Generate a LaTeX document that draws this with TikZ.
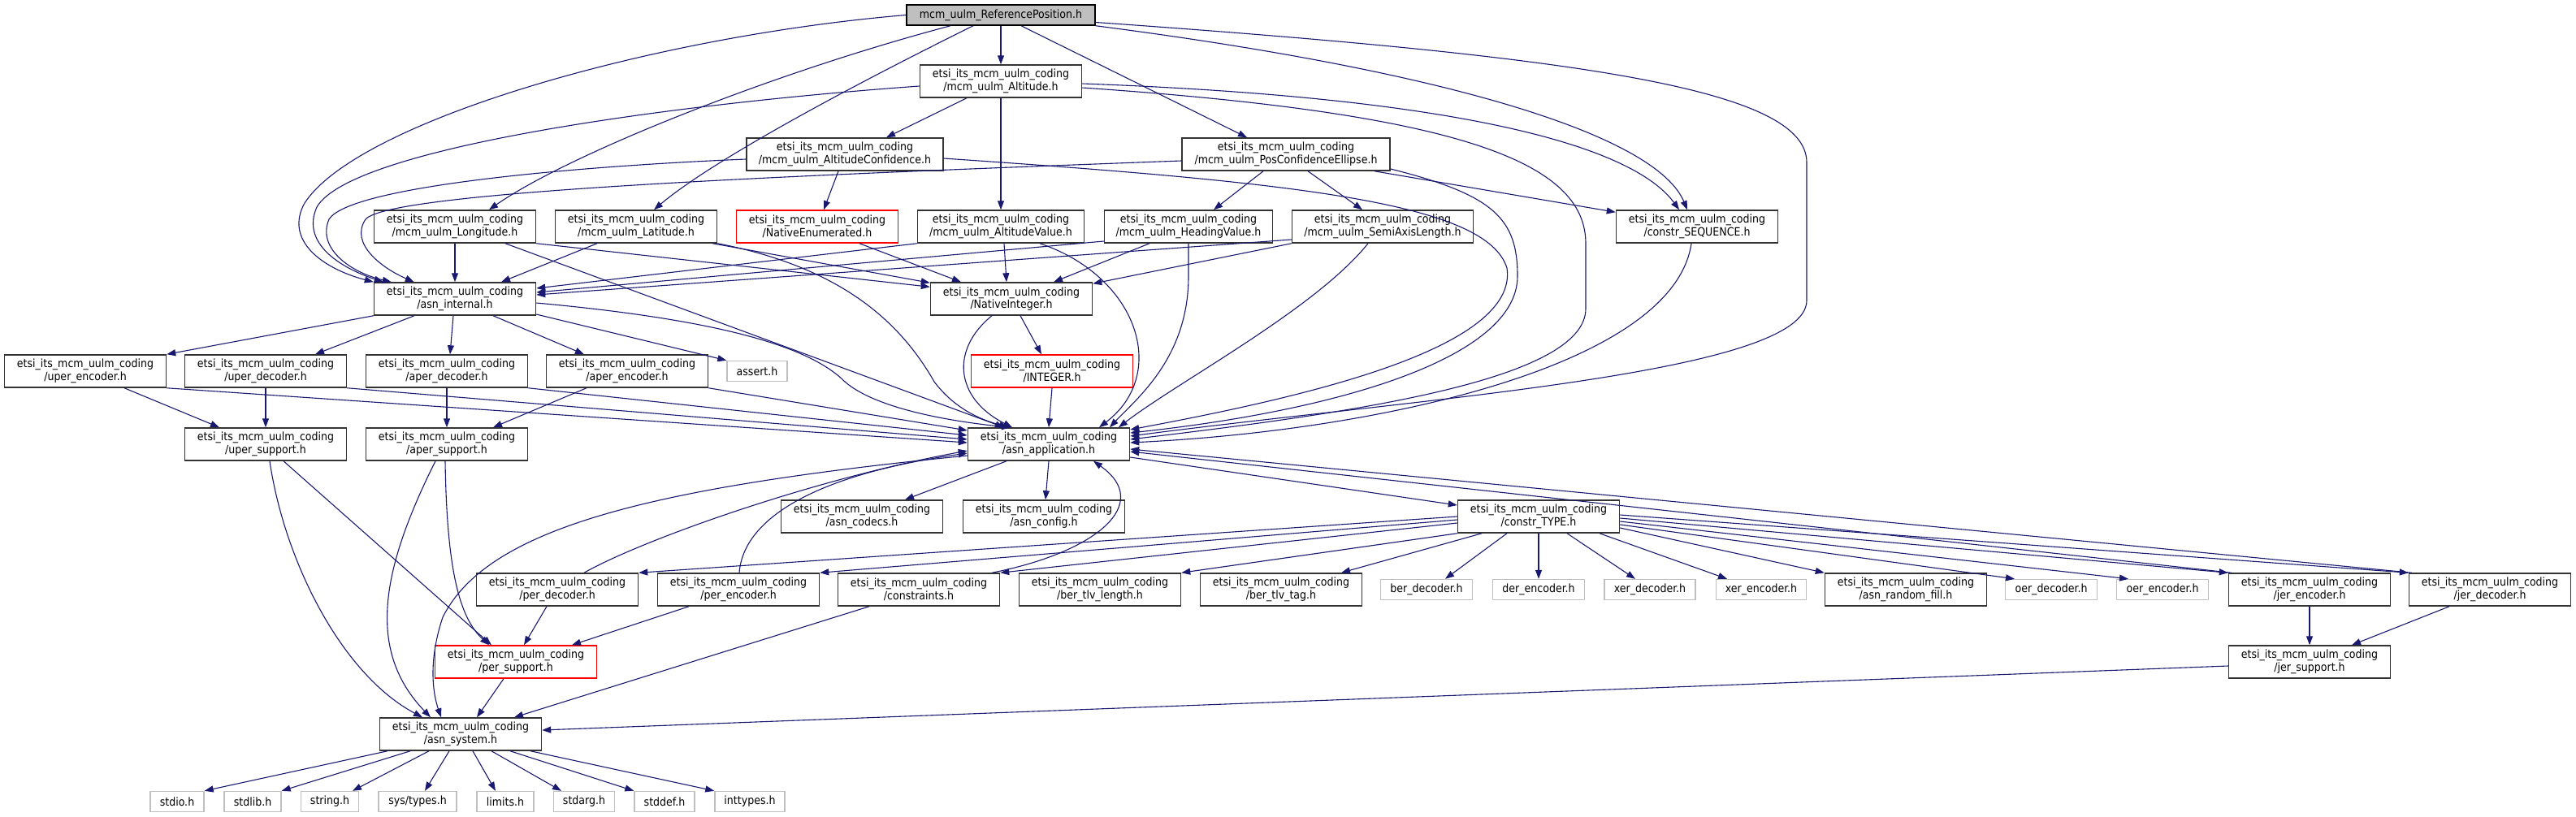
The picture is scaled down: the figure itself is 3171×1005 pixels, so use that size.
\documentclass[tikz,border=0pt]{standalone}
\usepackage{fontspec}
\setmainfont{DejaVu Sans Condensed}
\usetikzlibrary{arrows.meta}
\definecolor{edgecol}{HTML}{191970}
\definecolor{nodeborder}{HTML}{333333}
\definecolor{sysborder}{HTML}{BFBFBF}
\definecolor{rootfill}{HTML}{BFBFBF}
\newcommand\nfont{\fontsize{14}{15.5}\selectfont}
\tikzset{
  nb/.style={draw=nodeborder, line width=1.5pt, fill=white, minimum height=40pt, minimum width=199pt, inner sep=0pt, align=center, font=\nfont},
  sb/.style={draw=sysborder, line width=1.4pt, fill=white, minimum height=25pt, inner sep=0pt, align=center, font=\nfont},
  rb/.style={nb, draw=red},
  dep/.style={draw=edgecol, line width=1.1pt, -{Triangle[length=11pt,width=8pt]}},
}
\begin{document}
\begin{tikzpicture}[x=1pt,y=-1pt]
\useasboundingbox (0,0) rectangle (3171,1005);
% nodes
\node[nb, fill=rootfill, draw=black, minimum height=25pt, minimum width=232pt] (ref) at (1232,18.5) {mcm\_uulm\_ReferencePosition.h};
\node[nb] (alt) at (1232,100) {etsi\_its\_mcm\_uulm\_coding\\/mcm\_uulm\_Altitude.h};
\node[nb, minimum width=242pt] (altc) at (1040,190) {etsi\_its\_mcm\_uulm\_coding\\/mcm\_uulm\_AltitudeConfidence.h};
\node[nb, minimum width=256pt] (pce) at (1583,190) {etsi\_its\_mcm\_uulm\_coding\\/mcm\_uulm\_PosConfidenceEllipse.h};
\node[nb] (lon) at (560,279) {etsi\_its\_mcm\_uulm\_coding\\/mcm\_uulm\_Longitude.h};
\node[nb] (lat) at (783,279) {etsi\_its\_mcm\_uulm\_coding\\/mcm\_uulm\_Latitude.h};
\node[rb] (nenum) at (1006,279) {etsi\_its\_mcm\_uulm\_coding\\/NativeEnumerated.h};
\node[nb, minimum width=205pt] (altv) at (1232,279) {etsi\_its\_mcm\_uulm\_coding\\/mcm\_uulm\_AltitudeValue.h};
\node[nb, minimum width=207pt] (head) at (1463,279) {etsi\_its\_mcm\_uulm\_coding\\/mcm\_uulm\_HeadingValue.h};
\node[nb, minimum width=223pt] (semi) at (1702,279) {etsi\_its\_mcm\_uulm\_coding\\/mcm\_uulm\_SemiAxisLength.h};
\node[nb] (cseq) at (2089,279) {etsi\_its\_mcm\_uulm\_coding\\/constr\_SEQUENCE.h};
\node[nb] (asnint) at (560,368) {etsi\_its\_mcm\_uulm\_coding\\/asn\_internal.h};
\node[nb] (nint) at (1245,368) {etsi\_its\_mcm\_uulm\_coding\\/NativeInteger.h};
\node[nb] (uenc) at (105,457) {etsi\_its\_mcm\_uulm\_coding\\/uper\_encoder.h};
\node[nb] (udec) at (327,457) {etsi\_its\_mcm\_uulm\_coding\\/uper\_decoder.h};
\node[nb] (adec) at (550,457) {etsi\_its\_mcm\_uulm\_coding\\/aper\_decoder.h};
\node[nb] (aenc) at (772,457) {etsi\_its\_mcm\_uulm\_coding\\/aper\_encoder.h};
\node[sb, minimum width=74pt] (assert) at (932,457) {assert.h};
\node[rb] (integer) at (1295,457) {etsi\_its\_mcm\_uulm\_coding\\/INTEGER.h};
\node[nb] (usup) at (327,547) {etsi\_its\_mcm\_uulm\_coding\\/uper\_support.h};
\node[nb] (asup) at (550,547) {etsi\_its\_mcm\_uulm\_coding\\/aper\_support.h};
\node[nb] (asnapp) at (1291,547) {etsi\_its\_mcm\_uulm\_coding\\/asn\_application.h};
\node[nb] (codecs) at (1061,636) {etsi\_its\_mcm\_uulm\_coding\\/asn\_codecs.h};
\node[nb] (config) at (1285,636) {etsi\_its\_mcm\_uulm\_coding\\/asn\_config.h};
\node[nb] (ctype) at (1894,636) {etsi\_its\_mcm\_uulm\_coding\\/constr\_TYPE.h};
\node[nb] (perdec) at (686,726) {etsi\_its\_mcm\_uulm\_coding\\/per\_decoder.h};
\node[nb] (perenc) at (909,726) {etsi\_its\_mcm\_uulm\_coding\\/per\_encoder.h};
\node[nb] (constr) at (1131,726) {etsi\_its\_mcm\_uulm\_coding\\/constraints.h};
\node[nb] (btlvl) at (1354,726) {etsi\_its\_mcm\_uulm\_coding\\/ber\_tlv\_length.h};
\node[nb] (btlvt) at (1577,726) {etsi\_its\_mcm\_uulm\_coding\\/ber\_tlv\_tag.h};
\node[sb, minimum width=113pt] (berdec) at (1756,726) {ber\_decoder.h};
\node[sb, minimum width=113pt] (derenc) at (1894,726) {der\_encoder.h};
\node[sb, minimum width=112pt] (xerdec) at (2031,726) {xer\_decoder.h};
\node[sb, minimum width=111pt] (xerenc) at (2168,726) {xer\_encoder.h};
\node[nb] (rfill) at (2346,726) {etsi\_its\_mcm\_uulm\_coding\\/asn\_random\_fill.h};
\node[sb, minimum width=113pt] (oerdec) at (2525,726) {oer\_decoder.h};
\node[sb, minimum width=113pt] (oerenc) at (2662,726) {oer\_encoder.h};
\node[nb] (jenc) at (2843,726) {etsi\_its\_mcm\_uulm\_coding\\/jer\_encoder.h};
\node[nb] (jdec) at (3065,726) {etsi\_its\_mcm\_uulm\_coding\\/jer\_decoder.h};
\node[rb] (persup) at (635,815) {etsi\_its\_mcm\_uulm\_coding\\/per\_support.h};
\node[nb] (jsup) at (2843,815) {etsi\_its\_mcm\_uulm\_coding\\/jer\_support.h};
\node[nb] (asnsys) at (567,904) {etsi\_its\_mcm\_uulm\_coding\\/asn\_system.h};
\node[sb, minimum width=66pt] (stdio) at (218,987) {stdio.h};
\node[sb, minimum width=70pt] (stdlib) at (311,987) {stdlib.h};
\node[sb, minimum width=71pt] (string) at (406,987) {string.h};
\node[sb, minimum width=96pt] (systypes) at (514,987) {sys/types.h};
\node[sb, minimum width=70pt] (limits) at (622,987) {limits.h};
\node[sb, minimum width=75pt] (stdarg) at (719,987) {stdarg.h};
\node[sb, minimum width=74pt] (stddef) at (818,987) {stddef.h};
\node[sb, minimum width=86pt] (inttypes) at (923,987) {inttypes.h};
% edges from ReferencePosition
\draw[dep] (ref.west) .. controls (800,45) and (440,150) .. (375,250) .. controls (350,295) and (395,330) .. (asnint.north west);
\draw[dep] ([xshift=-62pt]ref.south) .. controls (950,90) and (700,190) .. ([xshift=42pt]lon.north);
\draw[dep] ([xshift=-34pt]ref.south) .. controls (1060,100) and (880,195) .. ([xshift=22pt]lat.north);
\draw[dep] (ref.south) -- (alt.north);
\draw[dep] ([xshift=25pt]ref.south) -- ([xshift=-48pt]pce.north);
\draw[dep] (ref.south east) .. controls (1800,90) and (2040,170) .. ([xshift=-12pt]cseq.north);
\draw[dep] ([yshift=-9pt]ref.east) .. controls (1950,70) and (2224,110) .. (2224,200) -- (2224,370) .. controls (2224,460) and (1750,490) .. ([yshift=10pt]asnapp.east);
% Altitude
\draw[dep] ([xshift=-42pt]alt.south) -- ([xshift=51pt]altc.north);
\draw[dep] (alt.south) -- (altv.north);
\draw[dep] ([yshift=-6pt]alt.west) .. controls (800,130) and (430,185) .. (390,255) .. controls (370,300) and (420,330) .. ([xshift=12pt]asnint.north west);
\draw[dep] ([yshift=-3pt]alt.east) .. controls (1800,120) and (2010,180) .. ([xshift=-22pt]cseq.north);
\draw[dep] ([yshift=-8pt]alt.east) .. controls (1800,140) and (1952,200) .. (1952,300) -- (1952,380) .. controls (1952,470) and (1650,510) .. ([yshift=6pt]asnapp.east);
% AltitudeConfidence
\draw[dep] ([xshift=-8pt]altc.south) -- ([xshift=8pt]nenum.north);
\draw[dep] ([yshift=-6pt]altc.west) .. controls (700,205) and (430,230) .. (405,270) .. controls (390,305) and (430,335) .. ([xshift=22pt]asnint.north west);
\draw[dep] ([yshift=-5pt]altc.east) .. controls (1600,225) and (1830,250) .. (1855,330) .. controls (1870,430) and (1600,490) .. ([yshift=18pt]asnapp.east);
% PosConfidenceEllipse
\draw[dep] ([xshift=-28pt]pce.south) -- ([xshift=31pt]head.north);
\draw[dep] ([xshift=27pt]pce.south) -- ([xshift=-25pt]semi.north);
\draw[dep] ([xshift=109pt]pce.south) -- ([yshift=-3pt]cseq.north west);
\draw[dep] ([yshift=-8pt]pce.west) .. controls (1000,215) and (480,235) .. (450,270) .. controls (430,300) and (470,330) .. ([xshift=50pt]asnint.north west);
\draw[dep] ([yshift=-18pt]pce.east) .. controls (1840,240) and (1868,270) .. (1868,340) .. controls (1868,440) and (1650,505) .. ([yshift=14pt]asnapp.east);
% Longitude
\draw[dep] (lon.south) -- (asnint.north);
\draw[dep] (lon.south east) -- ([yshift=-6pt]nint.north west);
\draw[dep] ([xshift=62pt]lon.south) -- ([xshift=-55pt]asnapp.north);
% Latitude
\draw[dep] ([xshift=-48pt]lat.south) -- ([xshift=57pt]asnint.north);
\draw[dep] ([xshift=-6pt]lat.south east) -- ([yshift=-1pt]nint.north west);
\draw[dep] (lat.south east) .. controls (1040,330) and (1110,400) .. (1150,470) .. controls (1180,510) and (1220,520) .. ([xshift=-50pt]asnapp.north);
% NativeEnumerated
\draw[dep] ([xshift=52pt]nenum.south) -- ([xshift=-62pt]nint.north);
% AltitudeValue
\draw[dep] (altv.south west) -- ([yshift=13pt]asnint.east);
\draw[dep] ([xshift=4pt]altv.south) -- ([xshift=-6pt]nint.north);
\draw[dep] ([xshift=48pt]altv.south) .. controls (1400,340) and (1440,460) .. ([xshift=62pt]asnapp.north);
% HeadingValue
\draw[dep] ([yshift=-18pt]head.west) -- ([yshift=8pt]asnint.east);
\draw[dep] ([xshift=-48pt]head.south) -- ([xshift=52pt]nint.north);
\draw[dep] (head.south) -- (1463,340) .. controls (1463,440) and (1400,490) .. ([xshift=75pt]asnapp.north);
% SemiAxisLength
\draw[dep] ([yshift=-16pt]semi.west) -- ([yshift=5pt]asnint.east);
\draw[dep] (semi.south west) -- ([yshift=-2pt]nint.north east);
\draw[dep] ([xshift=-18pt]semi.south) .. controls (1620,380) and (1450,470) .. ([xshift=86pt]asnapp.north);
% constr_SEQUENCE
\draw[dep] ([xshift=-7pt]cseq.south) .. controls (2060,450) and (1700,530) .. ([yshift=2pt]asnapp.east);
% asn_internal
\draw[dep] (asnint.south west) -- (uenc.north east);
\draw[dep] ([xshift=-50pt]asnint.south) -- ([xshift=61pt]udec.north);
\draw[dep] ([xshift=-2pt]asnint.south) -- ([xshift=4pt]adec.north);
\draw[dep] ([xshift=47pt]asnint.south) -- ([xshift=-53pt]aenc.north);
\draw[dep] ([yshift=-19pt]asnint.east) -- (assert.north west);
\draw[dep] ([yshift=-5pt]asnint.east) .. controls (900,395) and (1000,430) .. (1040,470) .. controls (1080,505) and (1180,520) .. ([xshift=-47pt]asnapp.north);
% uper / aper
\draw[dep] ([xshift=48pt]uenc.south) -- ([xshift=-57pt]usup.north);
\draw[dep] (uenc.south east) -- ([yshift=2pt]asnapp.west);
\draw[dep] (udec.south) -- (usup.north);
\draw[dep] (udec.south east) -- ([yshift=6pt]asnapp.west);
\draw[dep] (adec.south) -- (asup.north);
\draw[dep] (adec.south east) -- ([yshift=11pt]asnapp.west);
\draw[dep] ([xshift=-50pt]aenc.south) -- ([xshift=57pt]asup.north);
\draw[dep] (aenc.south east) -- ([yshift=17pt]asnapp.west);
\draw[dep] ([xshift=5pt]usup.south) .. controls (350,690) and (420,830) .. ([xshift=-47pt]asnsys.north);
\draw[dep] ([xshift=22pt]usup.south) -- ([xshift=-30pt]persup.north);
\draw[dep] ([xshift=-14pt]asup.south) .. controls (470,700) and (450,800) .. ([xshift=-37pt]asnsys.north);
\draw[dep] ([xshift=-2pt]asup.south) .. controls (550,700) and (565,760) .. ([xshift=-33pt]persup.north);
% NativeInteger / INTEGER
\draw[dep] ([xshift=11pt]nint.south) -- ([xshift=-13pt]integer.north);
\draw[dep] ([xshift=-24pt]nint.south) .. controls (1170,430) and (1175,490) .. ([xshift=-45pt]asnapp.north);
\draw[dep] (integer.south) -- (asnapp.north);
% asn_application
\draw[dep] ([xshift=-52pt]asnapp.south) -- ([xshift=53pt]codecs.north);
\draw[dep] (asnapp.south) -- ([xshift=2pt]config.north);
\draw[dep] ([yshift=-16pt]asnapp.east) -- ([yshift=14pt]ctype.west);
\draw[dep] ([yshift=-14pt]asnapp.west) .. controls (800,600) and (600,650) .. (545,760) .. controls (525,820) and (535,860) .. ([xshift=-24pt]asnsys.north);
% constr_TYPE
\draw[dep] (ctype.west) -- (perdec.north east);
\draw[dep] ([yshift=-4pt]ctype.west) -- (perenc.north east);
\draw[dep] ([yshift=-8pt]ctype.west) -- (constr.north east);
\draw[dep] (ctype.south west) -- (btlvl.north east);
\draw[dep] ([xshift=-70pt]ctype.south) -- ([xshift=74pt]btlvt.north);
\draw[dep] ([xshift=-39pt]ctype.south) -- ([xshift=23pt]berdec.north);
\draw[dep] (ctype.south) -- (derenc.north);
\draw[dep] ([xshift=35pt]ctype.south) -- ([xshift=-18pt]xerdec.north);
\draw[dep] ([xshift=75pt]ctype.south) -- ([xshift=-42pt]xerenc.north);
\draw[dep] ([yshift=-14pt]ctype.east) -- (rfill.north west);
\draw[dep] ([yshift=-10pt]ctype.east) -- ([xshift=-45pt]oerdec.north);
\draw[dep] ([yshift=-6pt]ctype.east) -- ([xshift=-42pt]oerenc.north);
\draw[dep] ([yshift=-2pt]ctype.east) -- (jenc.north west);
\draw[dep] ([yshift=2pt]ctype.east) -- (jdec.north west);
% jer
\draw[dep] ([xshift=4pt]jenc.north west) -- ([yshift=-9pt]asnapp.east);
\draw[dep] ([xshift=4pt]jdec.north west) -- ([yshift=-6pt]asnapp.east);
\draw[dep] (jenc.south) -- (jsup.north);
\draw[dep] ([xshift=-50pt]jdec.south) -- ([xshift=52pt]jsup.north);
\draw[dep] ([yshift=-5pt]jsup.west) -- ([yshift=5pt]asnsys.east);
% per
\draw[dep] ([xshift=-13pt]perdec.south) -- ([xshift=10pt]persup.north);
\draw[dep] ([xshift=33pt]perdec.north) .. controls (790,665) and (1000,590) .. ([yshift=-8pt]asnapp.west);
\draw[dep] ([xshift=-61pt]perenc.south) -- ([xshift=69pt]persup.north);
\draw[dep] ([xshift=1pt]perenc.north) .. controls (915,640) and (1000,585) .. ([yshift=-11pt]asnapp.west);
\draw[dep] ([xshift=-61pt]constr.south) -- ([xshift=66pt]asnsys.north);
\draw[dep] ([xshift=90pt]constr.north) .. controls (1350,680) and (1420,620) .. ([xshift=55pt]asnapp.south);
\draw[dep] ([xshift=-15pt]persup.south) -- ([xshift=20pt]asnsys.north);
% asn_system
\draw[dep] ([xshift=-90pt]asnsys.south) -- (stdio.north east);
\draw[dep] ([xshift=-62pt]asnsys.south) -- (stdlib.north east);
\draw[dep] ([xshift=-39pt]asnsys.south) -- ([xshift=28pt]string.north);
\draw[dep] ([xshift=-14pt]asnsys.south) -- ([xshift=9pt]systypes.north);
\draw[dep] ([xshift=15pt]asnsys.south) -- ([xshift=-12pt]limits.north);
\draw[dep] ([xshift=38pt]asnsys.south) -- ([xshift=-28pt]stdarg.north);
\draw[dep] ([xshift=61pt]asnsys.south) -- (stddef.north west);
\draw[dep] ([xshift=86pt]asnsys.south) -- (inttypes.north west);
\end{tikzpicture}
\end{document}
